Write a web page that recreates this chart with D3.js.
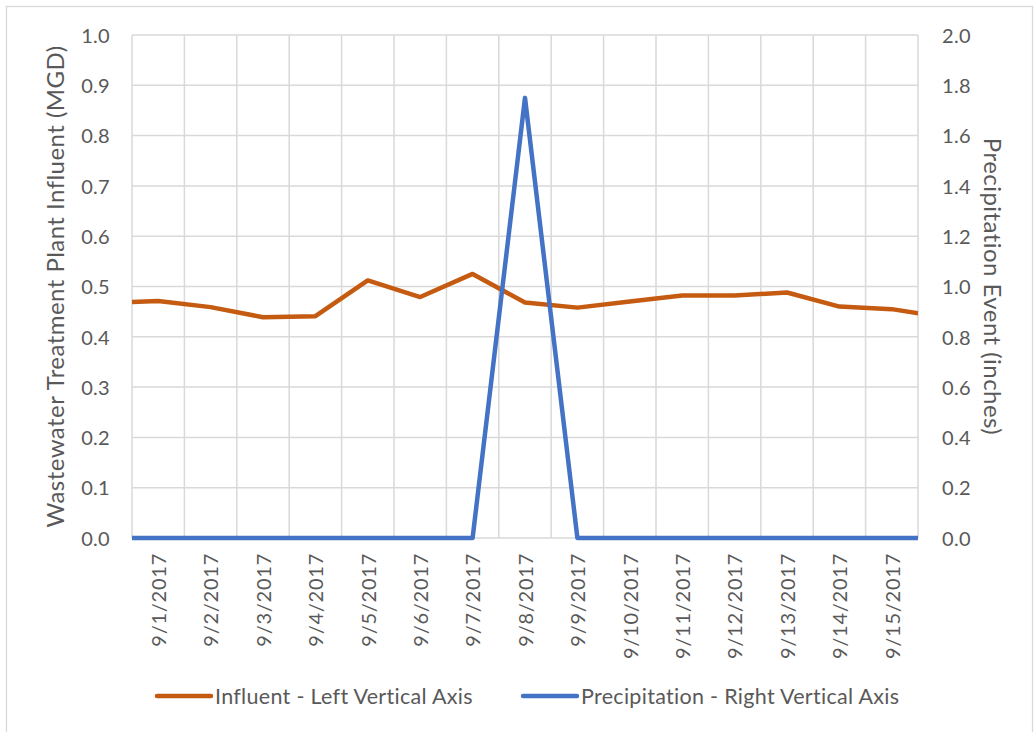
<!DOCTYPE html>
<html>
<head>
<meta charset="utf-8">
<script src="https://cdn.jsdelivr.net/npm/d3@7/dist/d3.min.js"></script>
<style>
  html, body { margin: 0; padding: 0; background: #fff; }
  svg { display: block; }
  text { font-family: Lato, "Open Sans", sans-serif; fill: #595959; }
</style>
</head>
<body>
<svg id="chart" width="1034" height="732"></svg>
<script>
// Daily readings; the first and last days sit just outside the visible axis
const dates = ["2017-08-31", "2017-09-01", "2017-09-02", "2017-09-03", "2017-09-04",
  "2017-09-05", "2017-09-06", "2017-09-07", "2017-09-08", "2017-09-09", "2017-09-10",
  "2017-09-11", "2017-09-12", "2017-09-13", "2017-09-14", "2017-09-15", "2017-09-16"];
const influent = [0.467, 0.471, 0.459, 0.439, 0.441, 0.512, 0.479, 0.525, 0.468,
  0.458, 0.470, 0.482, 0.482, 0.488, 0.460, 0.455, 0.439];
const precipitation = [0, 0, 0, 0, 0, 0, 0, 0, 1.75, 0, 0, 0, 0, 0, 0, 0, 0];

const leftTicks = [0, 0.1, 0.2, 0.3, 0.4, 0.5, 0.6, 0.7, 0.8, 0.9, 1.0];
const rightTicks = [0, 0.2, 0.4, 0.6, 0.8, 1.0, 1.2, 1.4, 1.6, 1.8, 2.0];
const axisLabels = ["9/1/2017", "9/2/2017", "9/3/2017", "9/4/2017", "9/5/2017",
  "9/6/2017", "9/7/2017", "9/8/2017", "9/9/2017", "9/10/2017", "9/11/2017",
  "9/12/2017", "9/13/2017", "9/14/2017", "9/15/2017"];

const leftTitle = "Wastewater Treatment Plant Influent (MGD)";
const rightTitle = "Precipitation Event (inches)";
const seriesNames = ["Influent - Left Vertical Axis", "Precipitation - Right Vertical Axis"];
const colors = ["#c55a11", "#4472c4"];

const parse = d3.timeParse("%Y-%m-%d");
const fmtLabel = d3.timeFormat("%-m/%-d/%Y");
const days = dates.map(parse);

const svg = d3.select("#chart");
const plot = { left: 132, right: 918, top: 35, bottom: 538 };

// Each day occupies a band centred on midnight, so the axis spans noon to noon
const x = d3.scaleTime()
  .domain([d3.timeHour.offset(parse("2017-09-01"), -12), d3.timeHour.offset(parse("2017-09-15"), 12)])
  .range([plot.left, plot.right]);
const yL = d3.scaleLinear().domain([0, 1]).range([plot.bottom, plot.top]);
const yR = d3.scaleLinear().domain([0, 2]).range([plot.bottom, plot.top]);

// Outer chart border
svg.append("rect")
  .attr("x", 6.5).attr("y", 6.5).attr("width", 1026).attr("height", 730)
  .attr("fill", "none").attr("stroke", "#d9d9d9").attr("stroke-width", 1.3);

// Gridlines
const bandEdges = d3.range(16).map(i => d3.timeHour.offset(parse("2017-09-01"), -12 + 24 * i));
svg.append("g").selectAll("line").data(bandEdges).join("line")
  .attr("x1", d => x(d)).attr("x2", d => x(d))
  .attr("y1", plot.top).attr("y2", plot.bottom)
  .attr("stroke", "#d9d9d9").attr("stroke-width", 1.5);
svg.append("g").selectAll("line").data(leftTicks).join("line")
  .attr("x1", plot.left).attr("x2", plot.right)
  .attr("y1", d => yL(d)).attr("y2", d => yL(d))
  .attr("stroke", "#d9d9d9").attr("stroke-width", 1.5);

// Left axis
const axL = svg.append("g").attr("transform", `translate(${plot.left - 22},0)`)
  .call(d3.axisLeft(yL).tickValues(leftTicks).tickFormat(d3.format(".1f")).tickSize(0).tickPadding(0));
axL.select(".domain").remove();
axL.selectAll("text").style("font-size", "20px").style("letter-spacing", "0.3px")
  .attr("fill", "#595959").attr("dy", "0.36em");

// Right axis
const axR = svg.append("g").attr("transform", `translate(${plot.right + 24},0)`)
  .call(d3.axisRight(yR).tickValues(rightTicks).tickFormat(d3.format(".1f")).tickSize(0).tickPadding(0));
axR.select(".domain").remove();
axR.selectAll("text").style("font-size", "20px").style("letter-spacing", "0.3px")
  .attr("fill", "#595959").attr("dy", "0.36em");

// Bottom date axis, labels rotated
const labelDays = axisLabels.map(s => d3.timeParse("%m/%d/%Y")(s));
const axB = svg.append("g").attr("transform", `translate(0,${plot.bottom})`)
  .call(d3.axisBottom(x).tickValues(labelDays).tickFormat(fmtLabel).tickSize(0).tickPadding(0));
axB.select(".domain").remove();
axB.selectAll("text")
  .style("font-size", "20px").style("letter-spacing", "0.75px").attr("fill", "#595959")
  .attr("text-anchor", "end")
  .attr("dy", "0.36em")
  .attr("transform", "translate(0,15) rotate(-90)")
  .attr("x", 0).attr("y", 0);

// Axis titles
svg.append("text")
  .attr("transform", `translate(64,${(plot.top + plot.bottom) / 2}) rotate(-90)`)
  .attr("text-anchor", "middle").style("font-size", "24px").style("letter-spacing", "0.45px")
  .text(leftTitle);
svg.append("text")
  .attr("transform", `translate(984,${(plot.top + plot.bottom) / 2}) rotate(90)`)
  .attr("text-anchor", "middle").style("font-size", "24px").style("letter-spacing", "0.45px")
  .text(rightTitle);

// Series lines, clipped to the plot area
svg.append("clipPath").attr("id", "plotclip").append("rect")
  .attr("x", plot.left).attr("y", 0).attr("width", plot.right - plot.left).attr("height", plot.bottom + 10);
const lineL = d3.line().x((d, i) => x(days[i])).y(d => yL(d));
const lineR = d3.line().x((d, i) => x(days[i])).y(d => yR(d));
const lines = svg.append("g").attr("clip-path", "url(#plotclip)");
lines.append("path").datum(influent).attr("d", lineL)
  .attr("fill", "none").attr("stroke", colors[0]).attr("stroke-width", 4.5)
  .attr("stroke-linejoin", "round").attr("stroke-linecap", "round");
lines.append("path").datum(precipitation).attr("d", lineR)
  .attr("fill", "none").attr("stroke", colors[1]).attr("stroke-width", 4.5)
  .attr("stroke-linejoin", "round").attr("stroke-linecap", "round");

// Legend
const legendItems = [{ x: 157, name: seriesNames[0], color: colors[0] },
                     { x: 523, name: seriesNames[1], color: colors[1] }];
const lg = svg.append("g").selectAll("g").data(legendItems).join("g")
  .attr("transform", d => `translate(${d.x},696)`);
lg.append("line").attr("x1", 0).attr("x2", 54).attr("y1", 0).attr("y2", 0)
  .attr("stroke", d => d.color).attr("stroke-width", 4.5).attr("stroke-linecap", "round");
lg.append("text").attr("x", 58).attr("dy", "0.36em")
  .style("font-size", "21.5px").style("letter-spacing", "0.3px").text(d => d.name);
</script>
</body>
</html>
